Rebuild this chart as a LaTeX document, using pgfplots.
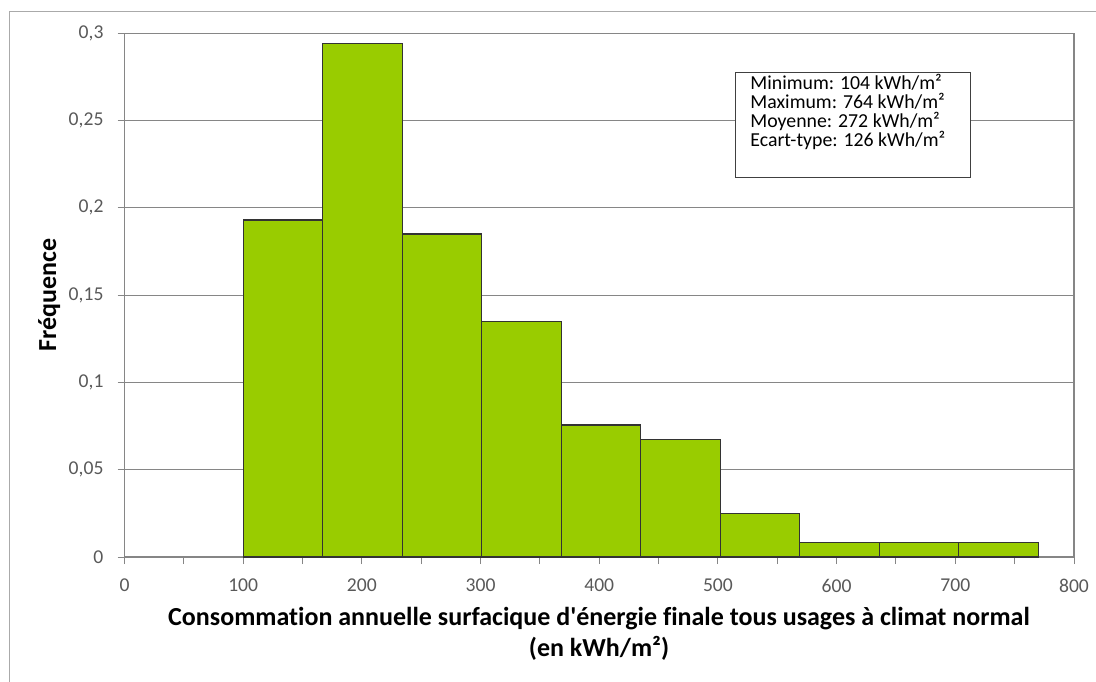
\documentclass[border=0pt]{standalone}
\usepackage{fontspec}
\setmainfont{Carlito}
\newfontfamily\plainfont{Carlito}[Ligatures=NoCommon]
\usepackage{pgfplots}
\pgfplotsset{compat=1.18}

\definecolor{bargreen}{RGB}{153,204,0}
\definecolor{gridgrey}{RGB}{134,134,134}
\definecolor{labelgrey}{RGB}{89,89,89}

\begin{document}
\begin{tikzpicture}
% 1 px of the reference = 0.5pt
\begin{scope}[x=0.5pt,y=-0.5pt]
\useasboundingbox (0,0) rectangle (1096,681);
\draw[gridgrey!70, line width=0.6pt] (9.5,700) -- (9.5,11.7) -- (1110,11.7);
\end{scope}

\begin{axis}[
    at={(62.25pt,-278.5pt)}, anchor=south west,
    scale only axis,
    width=474.75pt, height=261.85pt,
    xmin=0, xmax=800,
    ymin=0, ymax=0.3,
    xtick={0,100,200,300,400,500,600,700,800},
    xticklabels={0,100,200,300,400,500,600,700,800},
    minor xtick={50,150,...,750},
    ytick={0,0.05,0.1,0.15,0.2,0.25,0.3},
    yticklabels={0,{0,05},{0,1},{0,15},{0,2},{0,25},{0,3}},
    tick pos=left,
    tick align=outside,
    major tick length=3.5pt,
    minor tick length=3.5pt,
    tick style={gridgrey, line width=0.5pt},
    axis line style={gridgrey, line width=0.6pt},
    ymajorgrids=true,
    major grid style={gridgrey, line width=0.6pt},
    ticklabel style={font=\fontsize{9.8}{11}\selectfont, text=labelgrey},
    xticklabel style={yshift=-4pt},
    yticklabel style={xshift=-3.5pt},
]
\addplot[ybar interval, fill=bargreen, draw=black!80, line width=0.6pt] coordinates {
    (100,0.193)(167,0.294)(234,0.185)(301,0.135)(368,0.0756)
    (435,0.0675)(502,0.0248)(569,0.0084)(636,0.0084)(703,0.0084)(770,0.0084)
};
\end{axis}

\begin{scope}[x=0.5pt,y=-0.5pt]
% statistics box
\draw[black!75, fill=white, line width=0.6pt] (735.7,72.7) rectangle (970.7,177.3);
\begin{scope}[every node/.style={anchor=base west, inner sep=0pt, font=\fontsize{9.9}{11}\selectfont}]
\node at (750,89.3) {Minimum: 104 kWh/m²};
\node at (750,108.5) {Maximum: 764 kWh/m²};
\node at (750,127.5) {Moyenne: 272 kWh/m²};
\node at (750,146.5) {Ecart-type: 126 kWh/m²};
\end{scope}
% axis titles
\node[anchor=base, inner sep=0pt, font=\fontsize{13}{15}\plainfont\bfseries] at (599,625)
  {Consommation annuelle surfacique d'énergie finale tous usages à climat normal};
\node[anchor=base, inner sep=0pt, font=\fontsize{13}{15}\plainfont\bfseries] at (599,656)
  {(en kWh/m²)};
\node[anchor=base, rotate=90, inner sep=0pt, font=\fontsize{13}{15}\plainfont\bfseries] at (56,295)
  {Fréquence};
\end{scope}
\end{tikzpicture}
\end{document}
